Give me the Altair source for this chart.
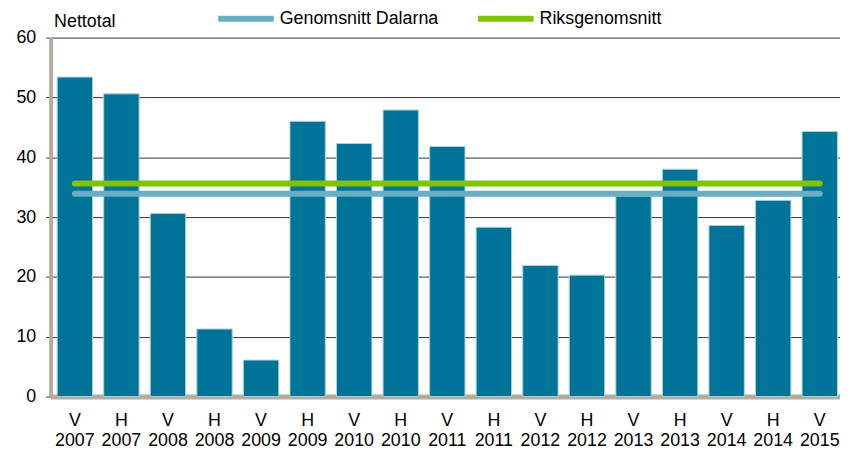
import altair as alt
import pandas as pd

halvar = ["V", "H", "V", "H", "V", "H", "V", "H", "V", "H", "V", "H", "V", "H", "V", "H", "V"]
years = ["2007", "2007", "2008", "2008", "2009", "2009", "2010", "2010", "2011",
         "2011", "2012", "2012", "2013", "2013", "2014", "2014", "2015"]
nettotal = [53.4, 50.6, 30.6, 11.3, 6.1, 46.0, 42.3, 47.9, 41.8,
            28.3, 21.9, 20.3, 33.5, 38.0, 28.6, 32.8, 44.3]
dalarna_avg = 33.9
riks_avg = 35.6
series_names = ["Genomsnitt Dalarna", "Riksgenomsnitt"]
series_colors = ["#69aec4", "#80c300"]
y_ticks = [0, 10, 20, 30, 40, 50, 60]

categories = [f"{h} {y}" for h, y in zip(halvar, years)]
n = len(categories)
bars_df = pd.DataFrame({"period": categories, "value": nettotal})
lines_df = pd.DataFrame({
    "period": categories * 2,
    "value": [dalarna_avg] * n + [riks_avg] * n,
    "serie": [series_names[0]] * n + [series_names[1]] * n,
})

FONT = "Liberation Sans"
BEIGE = "#b5ab9d"

x_scale = alt.Scale(range=[0, 800], paddingInner=0.24, paddingOuter=0.14)

x_enc = alt.X(
    "period:N", sort=categories, scale=x_scale,
    axis=alt.Axis(
        title=None, labelExpr="split(datum.label, ' ')", labelAngle=0,
        ticks=False, domainColor=BEIGE, domainWidth=5, labelFontSize=18,
        labelLineHeight=20, labelPadding=15, labelColor="black", grid=False,
        labelFont=FONT,
    ),
)
y_enc = alt.Y(
    "value:Q",
    scale=alt.Scale(domain=[0, 60], nice=False),
    axis=alt.Axis(
        values=y_ticks, title="Nettotal", titleAngle=0, titleAlign="left",
        titleX=3, titleY=-11, titleBaseline="alphabetic", titleFontSize=18,
        titleFontWeight="normal", titleFont=FONT, titleColor="black",
        grid=True, gridColor="#333333", gridWidth=1, tickSize=5,
        tickColor="#333333", domainColor=BEIGE, domainWidth=4,
        labelFontSize=18, labelPadding=10, labelFont=FONT, labelColor="black",
    ),
)

bars = alt.Chart(bars_df).mark_bar(
    color="#007399", stroke="#a9d2de", strokeWidth=1
).encode(x=x_enc, y=y_enc)

lines = alt.Chart(lines_df).mark_line(strokeWidth=6, strokeCap="round").encode(
    x=alt.X("period:N", sort=categories, scale=x_scale),
    y=alt.Y("value:Q"),
    color=alt.Color(
        "serie:N",
        scale=alt.Scale(domain=series_names, range=series_colors),
        legend=alt.Legend(
            orient="none", legendX=166, legendY=-50, direction="horizontal",
            title=None, symbolType="stroke", symbolSize=3136,
            symbolStrokeWidth=6, labelFontSize=18, labelFont=FONT,
            labelColor="black", columnPadding=27, labelOffset=3,
            labelLimit=0,
        ),
    ),
)

chart = alt.layer(bars, lines).properties(
    width=796, height=362,
    padding={"left": 43, "top": 28, "right": 0, "bottom": 52},
    autosize="none",
).configure_view(stroke=None)

chart.save("out.html", embed_options={"renderer": "svg", "actions": False})
